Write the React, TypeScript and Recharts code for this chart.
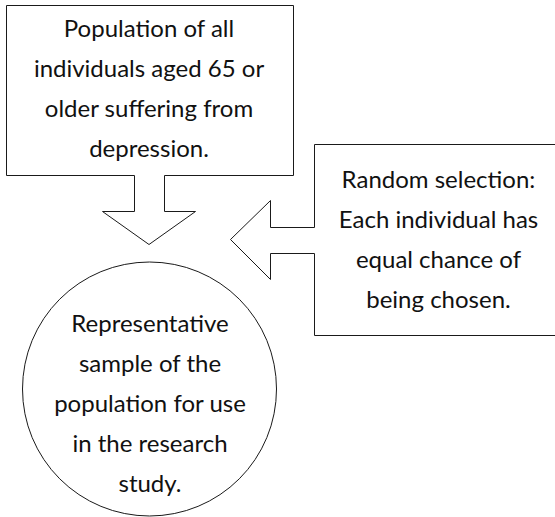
import React from "react";
import { ComposedChart, Line, Scatter, XAxis, YAxis } from "recharts";

// Node texts
const populationLines = ["Population of all", "individuals aged 65 or", "older suffering from", "depression."];
const selectionLines = ["Random selection:", "Each individual has", "equal chance of", "being chosen."];
const sampleLines = ["Representative", "sample of the", "population for use", "in the research", "study."];

// Diagram outlines (diagram coordinates)
const populationOutline = [
  { x: 6.5, y: 5.5 }, { x: 293.5, y: 5.5 }, { x: 293.5, y: 175.5 }, { x: 164.5, y: 175.5 },
  { x: 164.5, y: 211.5 }, { x: 195.5, y: 211.5 }, { x: 149, y: 244.5 }, { x: 102.5, y: 211.5 },
  { x: 134.5, y: 211.5 }, { x: 134.5, y: 175.5 }, { x: 6.5, y: 175.5 }, { x: 6.5, y: 5.5 },
];
const selectionOutline = [
  { x: 556, y: 144.5 }, { x: 314.5, y: 144.5 }, { x: 314.5, y: 227.5 }, { x: 270.5, y: 227.5 },
  { x: 270.5, y: 200.5 }, { x: 230.5, y: 239.5 }, { x: 270.5, y: 279.5 }, { x: 270.5, y: 253.5 },
  { x: 314.5, y: 253.5 }, { x: 314.5, y: 335.5 }, { x: 556, y: 335.5 },
];
const sampleCircle = [{ x: 149.5, y: 389, r: 127 }];

const textAnchors = [
  { x: 149, y: 37, lines: populationLines },
  { x: 438.5, y: 188, lines: selectionLines },
  { x: 150, y: 332, lines: sampleLines },
];

const W = 555;
const H = 517;
const STROKE = "#1a1a1a";
const FONT = "Lato, 'Open Sans', sans-serif";

const CircleShape = (props: any) => {
  const { cx, cy, payload } = props;
  return <circle cx={cx} cy={cy} r={payload.r} fill="none" stroke={STROKE} strokeWidth={1} />;
};

const TextShape = (props: any) => {
  const { cx, cy, payload } = props;
  return (
    <text x={cx} textAnchor="middle" fontFamily={FONT} fontSize={24} fill="#111">
      {payload.lines.map((l: string, i: number) => (
        <tspan key={i} x={cx} y={cy + i * 40}>{l}</tspan>
      ))}
    </text>
  );
};

export default function App() {
  return (
    <div style={{ position: "absolute", left: 0, top: 0, width: W, height: H, background: "#fff" }}>
      <ComposedChart width={W} height={H} margin={{ top: 0, right: 0, bottom: 0, left: 0 }}>
        <XAxis type="number" dataKey="x" domain={[0, W]} hide allowDataOverflow />
        <YAxis type="number" dataKey="y" domain={[0, H]} reversed hide allowDataOverflow />
        <Line data={populationOutline} dataKey="y" stroke={STROKE} strokeWidth={1} dot={false} activeDot={false} legendType="none" isAnimationActive={false} type="linear" />
        <Line data={selectionOutline} dataKey="y" stroke={STROKE} strokeWidth={1} dot={false} activeDot={false} legendType="none" isAnimationActive={false} type="linear" />
        <Scatter data={sampleCircle} dataKey="y" shape={<CircleShape />} isAnimationActive={false} />
        <Scatter data={textAnchors} dataKey="y" shape={<TextShape />} isAnimationActive={false} />
      </ComposedChart>
    </div>
  );
}
